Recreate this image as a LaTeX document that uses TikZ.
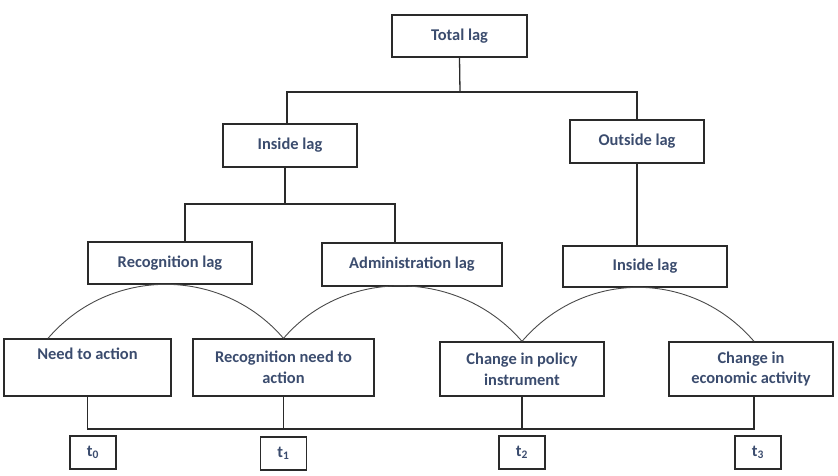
\documentclass[tikz,border=0pt]{standalone}
\usepackage{fontspec}
\setmainfont{Carlito}
\definecolor{txt}{HTML}{3B4C6E}
\definecolor{edge}{HTML}{2A2A2A}
\definecolor{arcc}{HTML}{4A4A4A}
\begin{document}
\begin{tikzpicture}[x=1bp,y=-1bp,
  box/.style={draw=edge, line width=1.3bp, inner sep=0pt, align=center,
    font=\bfseries\fontsize{16.5}{21}\selectfont, text=txt},
  tbox/.style={box, minimum width=46bp, minimum height=33bp},
  conn/.style={draw=edge, line width=1.3bp},
  arcline/.style={draw=arcc, line width=0.9bp}]
\useasboundingbox (0,0) rectangle (838,476);
\node[box, minimum width=135bp, minimum height=42bp] (total) at (459.5,36) {Total lag};
\node[box, minimum width=134bp, minimum height=43bp] (insideL) at (290,145.5) {Inside lag};
\node[box, minimum width=134bp, minimum height=43bp] (outside) at (637,141.5) {Outside lag};
\node[box, minimum width=164bp, minimum height=42bp] (recog) at (170,263) {Recognition lag};
\node[box, minimum width=180bp, minimum height=43bp] (admin) at (412,264.5) {Administration lag};
\node[box, minimum width=164bp, minimum height=41bp] (insideR) at (645,266.5) {Inside lag};
\node[box, minimum width=167bp, minimum height=57bp] (need) at (87.5,367.5) {Need to action\\\strut};
\node[box, minimum width=181bp, minimum height=57bp] (recneed) at (283.5,367.5) {Recognition need to\\action};
\node[box, minimum width=164bp, minimum height=54bp] (policy) at (522,369) {Change in policy\\instrument};
\node[box, minimum width=164bp, minimum height=54bp] (econ) at (751,369) {Change in\\economic activity};
\node[tbox] (t0) at (93,452.5) {t\textsubscript{0}};
\node[tbox] (t1) at (283.5,453.5) {t\textsubscript{1}};
\node[tbox] (t2) at (522,452.5) {t\textsubscript{2}};
\node[tbox] (t3) at (758,452.5) {t\textsubscript{3}};
% top tree
\coordinate (j1) at (460,92);
\draw[conn] (total.south) -- (j1);
\draw[conn] ([xshift=-3bp]insideL.north) |- (j1) -| (outside.north);
\coordinate (hm) at (285,204);
\coordinate (h1) at (185,204);
\coordinate (h2) at (395,204);
\draw[conn] (hm |- insideL.south) -- (hm);
\draw[conn] (h1 |- recog.north) -- (h1) -- (h2) -- (h2 |- admin.north);
\draw[conn] (outside.south) -- (outside.south |- insideR.north);
% arcs
\draw[arcline] ([xshift=-39.5bp]need.north) .. controls +(62,-72) and +(-62,-72) .. (recneed.north);
\draw[arcline] (recneed.north) .. controls +(62,-72) and +(-62,-72) .. (policy.north);
\draw[arcline] (policy.north) .. controls +(62,-72) and +(-62,-72) .. ([xshift=3bp]econ.north);
% timeline
\coordinate (tl) at (0,429);
\draw[conn] (need.south) -- (need.south |- tl) -- ([xshift=3bp]econ.south |- tl) -- ([xshift=3bp]econ.south);
\draw[conn] (recneed.south) -- (recneed.south |- tl);
\draw[conn] (policy.south) -- (policy.south |- tl);
\end{tikzpicture}
\end{document}
